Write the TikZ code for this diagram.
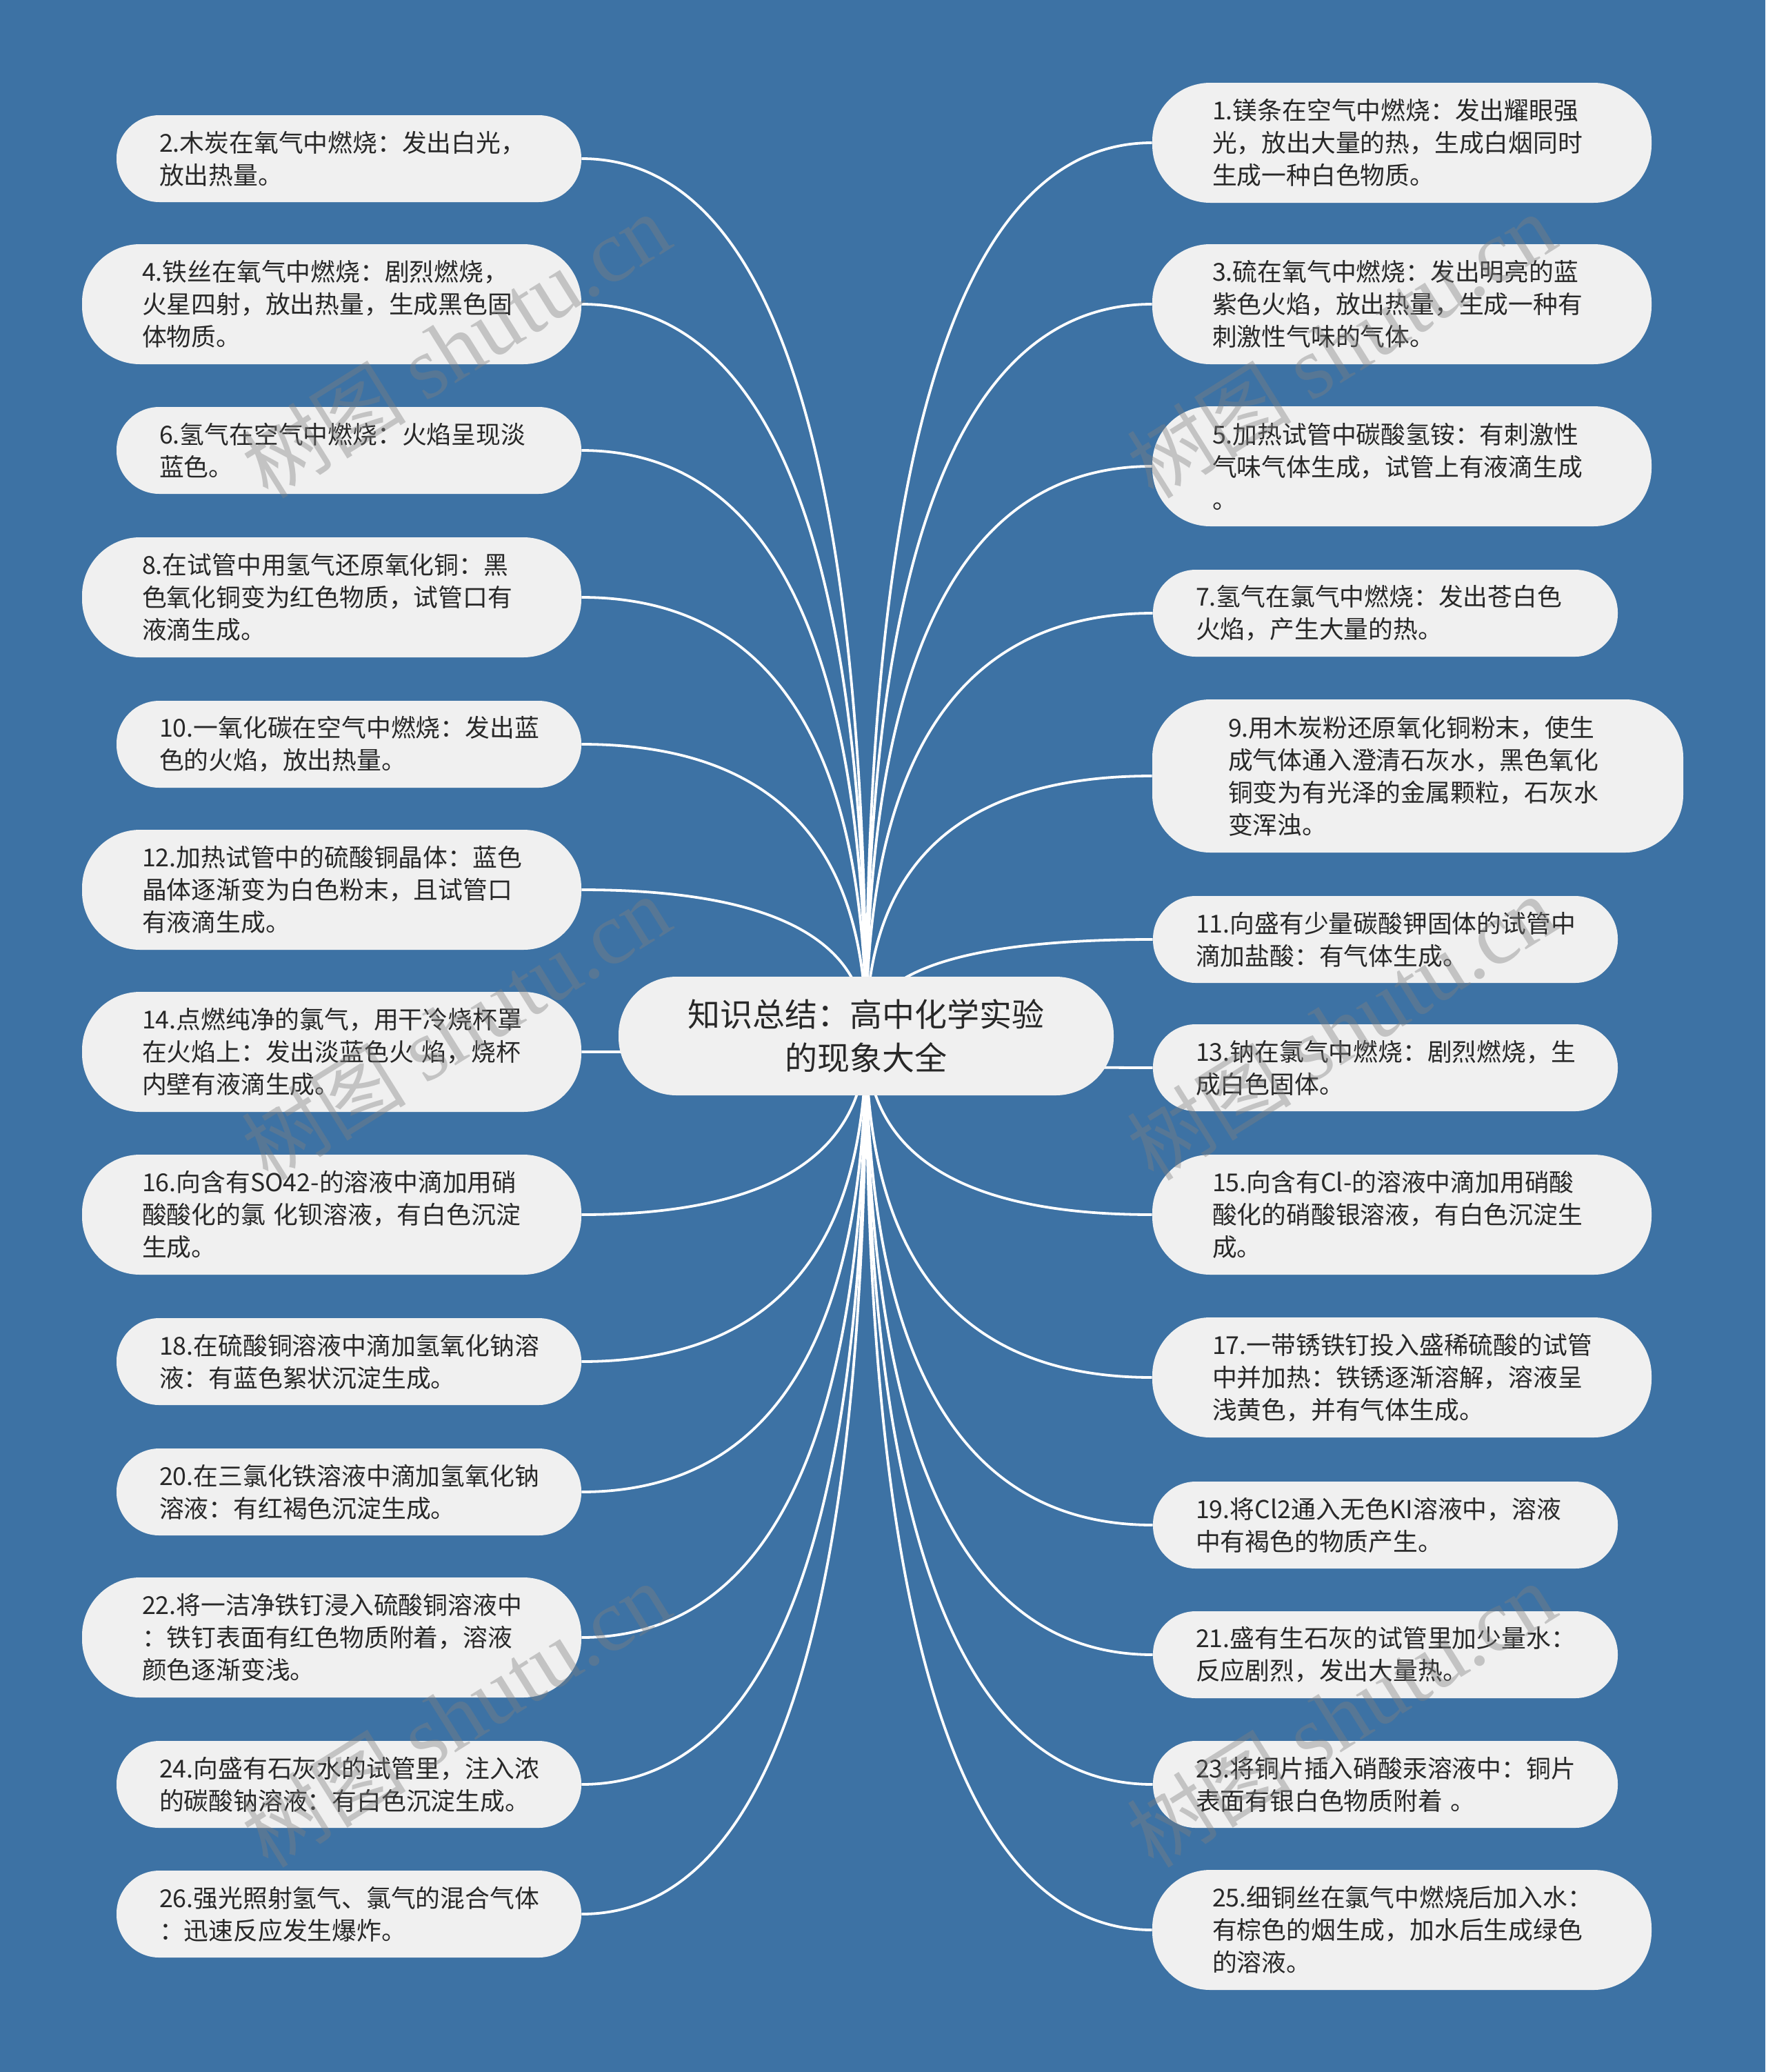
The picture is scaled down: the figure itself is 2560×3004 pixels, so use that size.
\documentclass[tikz,border=0pt]{standalone}
\usepackage{fontspec}
\setmainfont{Noto Sans CJK SC}
\newfontfamily\wmlatin{Liberation Serif}
\usetikzlibrary{calc}
\exhyphenpenalty=10000
\hyphenpenalty=10000
\definecolor{bgblue}{RGB}{61,114,164}
\definecolor{boxfill}{RGB}{240,240,240}
\definecolor{ink}{RGB}{40,40,40}
\definecolor{wmgray}{RGB}{128,128,128}
\pgfdeclarelayer{bg}
\pgfdeclarelayer{wires}
\pgfsetlayers{bg,wires,main}
\tikzset{
  leaf/.style={fill=boxfill, text=ink, inner sep=0pt, text width=275pt, align=left,
    font=\fontsize{17.9pt}{23.5pt}\selectfont},
  lhtwo/.style={minimum height=63pt, rounded corners=31pt},
  lhthree/.style={minimum height=87pt, rounded corners=42pt},
  lhfour/.style={minimum height=111pt, rounded corners=42pt},
  wide/.style={minimum width=362pt},
  narrow/.style={minimum width=337pt},
  hub/.style={fill=boxfill, text=ink, inner sep=0pt, minimum width=359pt, minimum height=86pt,
    rounded corners=42pt, align=center, font=\fontsize{23.5pt}{31.5pt}\selectfont},
  link/.style={draw=white, line width=1.9pt},
  wm/.style={text=wmgray, opacity=0.4, rotate=32, inner sep=0pt}
}
\begin{document}
\begin{tikzpicture}[x=0.5pt, y=-0.5pt]
\useasboundingbox (0,0) rectangle (2560,3004);
\begin{pgfonlayer}{bg}
  \fill[bgblue] (0,0) rectangle (2560,3004);
\end{pgfonlayer}

% hub
\node[hub] (c) at (1256,1502) {知识总结：高中化学实验\\的现象大全};

% left column
\node[leaf,narrow,lhtwo] (n2) at (506,230) {2.木炭在氧气中燃烧：发出白光，\\放出热量。};
\node[leaf,wide,lhthree] (n4) at (481,441) {4.铁丝在氧气中燃烧：剧烈燃烧，\\火星四射，放出热量，生成黑色固\\体物质。};
\node[leaf,narrow,lhtwo] (n6) at (506,653) {6.氢气在空气中燃烧：火焰呈现淡\\蓝色。};
\node[leaf,wide,lhthree] (n8) at (481,866) {8.在试管中用氢气还原氧化铜：黑\\色氧化铜变为红色物质，试管口有\\液滴生成。};
\node[leaf,narrow,lhtwo] (n10) at (506,1079) {10.一氧化碳在空气中燃烧：发出蓝\\色的火焰，放出热量。};
\node[leaf,wide,lhthree] (n12) at (481,1290) {12.加热试管中的硫酸铜晶体：蓝色\\晶体逐渐变为白色粉末，且试管口\\有液滴生成。};
\node[leaf,wide,lhthree] (n14) at (481,1525) {14.点燃纯净的氯气，用干冷烧杯罩\\在火焰上：发出淡蓝色火~焰，烧杯\\内壁有液滴生成。};
\node[leaf,wide,lhthree] (n16) at (481,1761) {\mbox{16.向含有SO42-的溶液中滴加用硝}\\酸酸化的氯~化钡溶液，有白色沉淀\\生成。};
\node[leaf,narrow,lhtwo] (n18) at (506,1974) {18.在硫酸铜溶液中滴加氢氧化钠溶\\液：有蓝色絮状沉淀生成。};
\node[leaf,narrow,lhtwo] (n20) at (506,2163) {20.在三氯化铁溶液中滴加氢氧化钠\\溶液：有红褐色沉淀生成。};
\node[leaf,wide,lhthree] (n22) at (481,2374) {22.将一洁净铁钉浸入硫酸铜溶液中\\：铁钉表面有红色物质附着，溶液\\颜色逐渐变浅。};
\node[leaf,narrow,lhtwo] (n24) at (506,2587) {24.向盛有石灰水的试管里，注入浓\\的碳酸钠溶液：有白色沉淀生成。};
\node[leaf,narrow,lhtwo] (n26) at (506,2775) {26.强光照射氢气、氯气的混合气体\\：迅速反应发生爆炸。};

% right column
\node[leaf,wide,lhthree] (n1) at (2033,207) {1.镁条在空气中燃烧：发出耀眼强\\光，放出大量的热，生成白烟同时\\生成一种白色物质。};
\node[leaf,wide,lhthree] (n3) at (2033,441) {3.硫在氧气中燃烧：发出明亮的蓝\\紫色火焰，放出热量，生成一种有\\刺激性气味的气体。};
\node[leaf,wide,lhthree] (n5) at (2033,676) {5.加热试管中碳酸氢铵：有刺激性\\气味气体生成，试管上有液滴生成\\。};
\node[leaf,narrow,lhtwo] (n7) at (2009,889) {7.氢气在氯气中燃烧：发出苍白色\\火焰，产生大量的热。};
\node[leaf,lhfour,minimum width=385pt] (n9) at (2056,1125) {9.用木炭粉还原氧化铜粉末，使生\\成气体通入澄清石灰水，黑色氧化\\铜变为有光泽的金属颗粒，石灰水\\变浑浊。};
\node[leaf,narrow,lhtwo] (n11) at (2009,1362) {11.向盛有少量碳酸钾固体的试管中\\滴加盐酸：有气体生成。};
\node[leaf,narrow,lhtwo] (n13) at (2009,1548) {13.钠在氯气中燃烧：剧烈燃烧，生\\成白色固体。};
\node[leaf,wide,lhthree] (n15) at (2033,1761) {\mbox{15.向含有Cl-的溶液中滴加用硝酸}\\酸化的硝酸银溶液，有白色沉淀生\\成。};
\node[leaf,wide,lhthree] (n17) at (2033,1997) {17.一带锈铁钉投入盛稀硫酸的试管\\中并加热：铁锈逐渐溶解，溶液呈\\浅黄色，并有气体生成。};
\node[leaf,narrow,lhtwo] (n19) at (2009,2211) {19.将Cl2通入无色KI溶液中，溶液\\中有褐色的物质产生。};
\node[leaf,narrow,lhtwo] (n21) at (2009,2399) {21.盛有生石灰的试管里加少量水：\\反应剧烈，发出大量热。};
\node[leaf,narrow,lhtwo] (n23) at (2009,2587) {23.将铜片插入硝酸汞溶液中：铜片\\表面有银白色物质附着~。};
\node[leaf,wide,lhthree] (n25) at (2033,2798) {25.细铜丝在氯气中燃烧后加入水：\\有棕色的烟生成，加水后生成绿色\\的溶液。};

% connectors
\begin{pgfonlayer}{wires}
  \foreach \n in {n2,n4,n6,n8,n10,n12,n14,n16,n18,n20,n22,n24,n26}{
    \coordinate (ctl) at (c.center |- \n.east);
    \draw[link] (c.center) .. controls ($(c.center)!0.6667!(ctl)$) and ($(\n.east)!0.6667!(ctl)$) .. (\n.east);
  }
  \foreach \n in {n1,n3,n5,n7,n9,n11,n13,n15,n17,n19,n21,n23,n25}{
    \coordinate (ctl) at (c.center |- \n.west);
    \draw[link] (c.center) .. controls ($(c.center)!0.6667!(ctl)$) and ($(\n.west)!0.6667!(ctl)$) .. (\n.west);
  }
\end{pgfonlayer}

% watermarks
\foreach \wx/\wy [count=\i] in {661/502, 1945/502, 661/1491, 1945/1491, 661/2487, 1945/2487}{
  \node[wm] (wm\i) at (\wx,\wy) {{\fontsize{60pt}{60pt}\selectfont 树图}\hspace{14pt}{\wmlatin\fontsize{64pt}{64pt}\selectfont shutu.cn}};
}
\end{tikzpicture}
\end{document}
